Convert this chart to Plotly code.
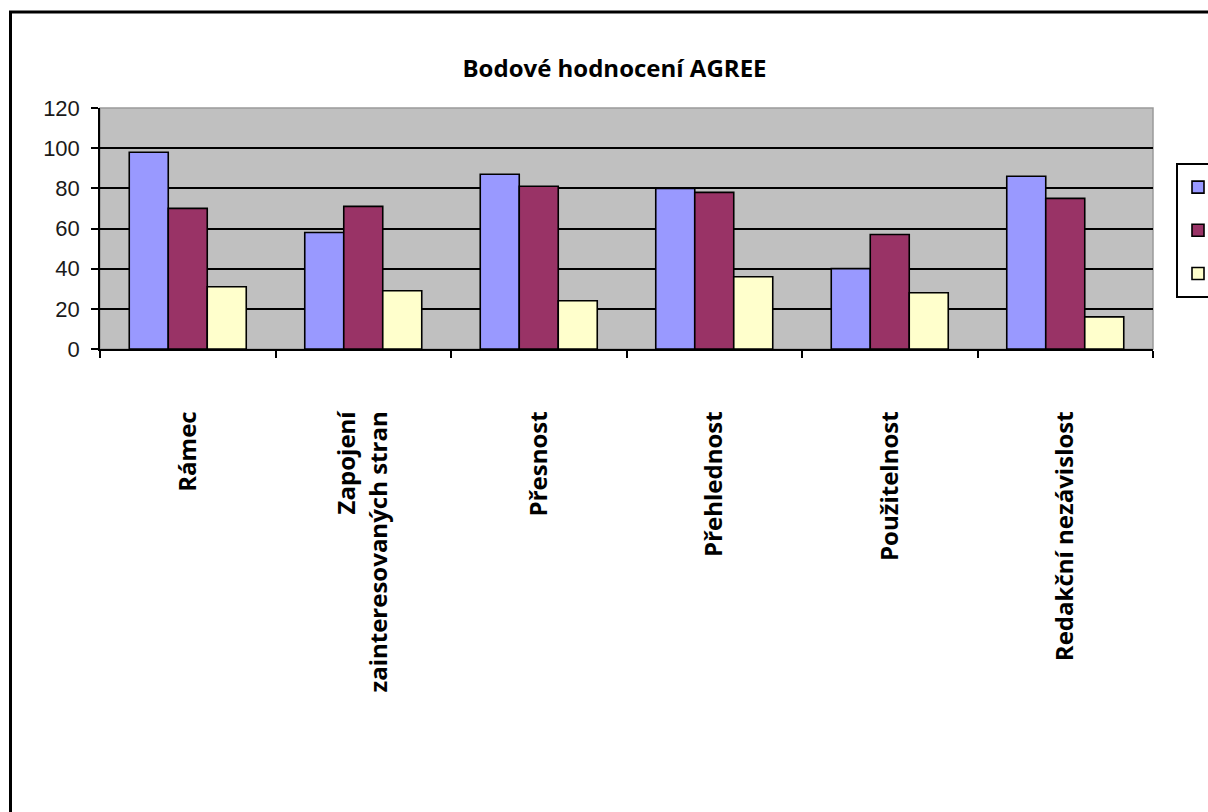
import plotly.graph_objects as go

# AGREE domain scores for three assessed guidelines
categories = [
    "Rámec",
    "Zapojení<br>zainteresovaných stran",
    "Přesnost",
    "Přehlednost",
    "Použitelnost",
    "Redakční nezávislost",
]
series_keys = ["g1", "g2", "g3"]
values_1 = [98, 58, 87, 80, 40, 86]
values_2 = [70, 71, 81, 78, 57, 75]
values_3 = [31, 29, 24, 36, 28, 16]
y_ticks = [0, 20, 40, 60, 80, 100, 120]
grid_ticks = [20, 40, 60, 80, 100]

colors = ["#9999FF", "#993366", "#FFFFCC"]

W, H = 1208, 812
L, R, T, B = 100, 55, 108, 463
plot_w = W - L - R
plot_h = H - T - B

fig = go.Figure()
for key, vals, col in zip(series_keys, [values_1, values_2, values_3], colors):
    fig.add_trace(go.Bar(
        x=categories, y=vals, name=" ", legendgroup=key,
        marker=dict(color=col, line=dict(color="#000000", width=1.6)),
    ))

# invisible overlay trace carrying the inner grid lines
fig.add_trace(go.Scatter(x=categories, y=[None] * len(categories), yaxis="y2",
                         showlegend=False, hoverinfo="skip"))

fig.update_layout(
    width=W, height=H,
    margin=dict(l=L, r=R, t=T, b=B, autoexpand=False),
    paper_bgcolor="#FFFFFF",
    plot_bgcolor="#C0C0C0",
    barmode="group",
    bargap=1 / 3,
    bargroupgap=0,
    title=dict(
        text="<b>Bodové hodnocení AGREE</b>",
        font=dict(family="Open Sans", size=24, color="#000000"),
        xref="paper", x=(614.5 - L) / plot_w, xanchor="center",
        yref="container", y=1 - 69 / H, yanchor="middle",
    ),
    xaxis=dict(
        type="category",
        showline=True, linecolor="#000000", linewidth=1.5,
        ticks="outside", ticklen=7, tickcolor="#000000", tickwidth=1.5,
        tickson="boundaries",
        tickangle=-90,
        ticklabelstandoff=51,
        tickfont=dict(family="Open Sans", size=24, color="#000000", weight="bold"),
        showgrid=False,
    ),
    yaxis=dict(
        range=[0, 120],
        tickvals=y_ticks,
        showline=True, linecolor="#000000", linewidth=1.5,
        ticks="outside", ticklen=7, tickcolor="#000000", tickwidth=1.5,
        ticklabelstandoff=7,
        tickfont=dict(family="Liberation Sans", size=22, color="#1a1a1a"),
        showgrid=False,
        zeroline=False,
    ),
    yaxis2=dict(
        overlaying="y", range=[0, 120], tickvals=grid_ticks,
        showticklabels=False, ticks="",
        showgrid=True, gridcolor="#000000", gridwidth=2,
        zeroline=False, showline=False,
    ),
    legend=dict(
        x=(1176 - L) / plot_w, xanchor="left",
        y=(H - B - 163) / plot_h, yanchor="top",
        bgcolor="#FFFFFF", bordercolor="#000000", borderwidth=2,
        font=dict(family="Liberation Sans", size=24, color="#000000"),
        traceorder="grouped", tracegroupgap=9,
    ),
    shapes=[
        # plot area edge
        dict(type="rect", xref="x domain", yref="y domain", x0=0, x1=1, y0=0, y1=1,
             line=dict(color="#9a9a9a", width=1.5), layer="below"),
        # outer frame of the chart
        dict(type="rect", xref="paper", yref="paper",
             x0=(10.5 - L) / plot_w, x1=(W + 20 - L) / plot_w,
             y0=-(B + 20) / plot_h, y1=(H - B - 12) / plot_h,
             line=dict(color="#000000", width=3)),
    ],
    showlegend=True,
)

fig.write_html("out.html")
